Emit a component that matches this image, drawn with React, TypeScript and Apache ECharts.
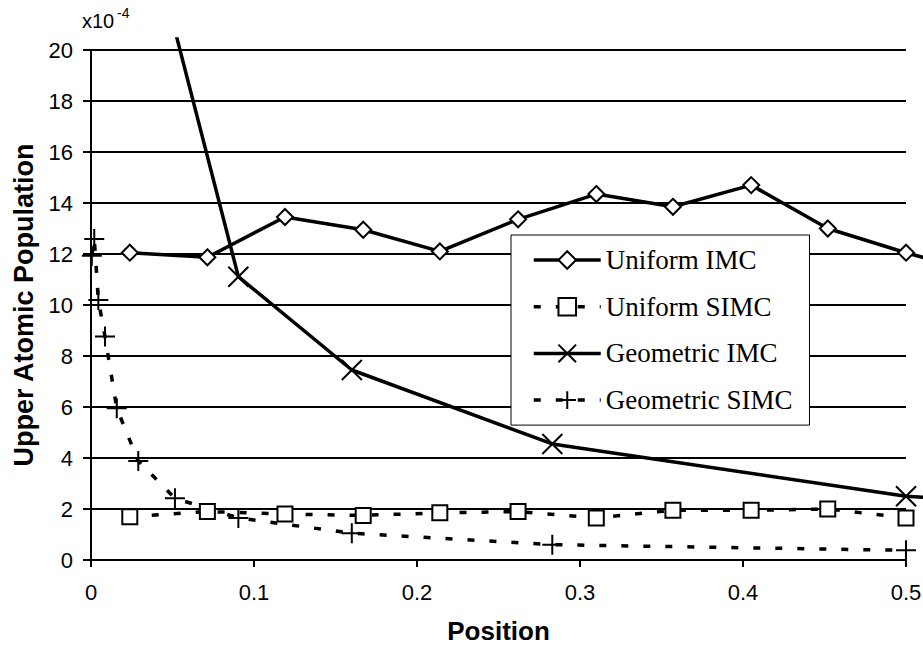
import React, { useEffect, useRef } from "react";
import * as echarts from "echarts";

// Uniform cell centres (positions)
const uniformX = [0.0238, 0.0714, 0.119, 0.167, 0.214, 0.262, 0.31, 0.357, 0.405, 0.452, 0.5, 0.548];
const uniformIMC = [12.05, 11.87, 13.45, 12.95, 12.1, 13.36, 14.35, 13.85, 14.7, 13.0, 12.05, 11.2];
const uniformSIMC = [1.7, 1.9, 1.8, 1.75, 1.85, 1.9, 1.65, 1.95, 1.95, 2.0, 1.65];

// Geometric cell centres (positions)
const geomIMCX = [0.0515, 0.0904, 0.16, 0.283, 0.5, 0.884];
const geometricIMC = [20.77, 11.11, 7.45, 4.55, 2.5, 1.0];
const geomSIMCX = [0.0005, 0.002, 0.0045, 0.0086, 0.0158, 0.029, 0.0515, 0.0904, 0.16, 0.283, 0.5];
const geometricSIMC = [11.93, 12.59, 10.2, 8.76, 5.95, 3.88, 2.42, 1.65, 1.05, 0.6, 0.38];

const seriesNames = ["Uniform IMC", "Uniform SIMC", "Geometric IMC", "Geometric SIMC"];

const pair = (xs: number[], ys: number[]) => ys.map((y, i) => [xs[i], y]);

const SANS = '"Liberation Sans", Arial, sans-serif';
const SERIF = '"Liberation Serif", "Times New Roman", serif';

export default function App() {
  const ref = useRef<HTMLDivElement>(null);
  useEffect(() => {
    if (!ref.current) return;
    const chart = echarts.init(ref.current, null, { renderer: "svg" });
    const xSymbol = "path://M0,0L20,20M20,0L0,20";
    const plusSymbol = "path://M10,0L10,20M0,10L20,10";
    const option: any = {
      animation: false,
      backgroundColor: "#fff",
      textStyle: { fontFamily: SANS },
      grid: [
        { left: 91, right: 17, top: 50, bottom: 92, containLabel: false, outerBoundsMode: "none" },
        { left: 91, right: 0, top: 39, bottom: 92, containLabel: false, outerBoundsMode: "none" },
      ],
      xAxis: [
        {
          type: "value",
          gridIndex: 0,
          min: 0,
          max: 0.5,
          interval: 0.1,
          name: "Position",
          nameLocation: "middle",
          nameGap: 58,
          nameTextStyle: { fontFamily: SANS, fontWeight: "bold", fontSize: 26, color: "#000" },
          axisLine: { show: true, lineStyle: { color: "#000", width: 2 } },
          axisTick: { show: true, inside: false, length: 7, lineStyle: { color: "#000", width: 2 } },
          axisLabel: { fontFamily: SANS, fontSize: 22, color: "#000", margin: 21 },
          splitLine: { show: false },
        },
        { type: "value", gridIndex: 1, min: 0, max: 0.5104, show: false },
      ],
      yAxis: [
        {
          type: "value",
          gridIndex: 0,
          min: 0,
          max: 20,
          interval: 2,
          name: "Upper Atomic Population",
          nameLocation: "middle",
          nameRotate: 90,
          nameGap: 54,
          nameTextStyle: { fontFamily: SANS, fontWeight: "bold", fontSize: 27, color: "#000" },
          axisLine: { show: true, lineStyle: { color: "#000", width: 2 } },
          axisTick: { show: true, inside: false, length: 8, lineStyle: { color: "#000", width: 2 } },
          axisLabel: { fontFamily: SANS, fontSize: 22, color: "#000", margin: 18 },
          splitLine: { show: true, lineStyle: { color: "#000", width: 2 } },
        },
        { type: "value", gridIndex: 1, min: 0, max: 20.43, show: false },
      ],
      legend: {
        data: seriesNames,
        orient: "vertical",
        left: 511,
        top: 235,
        padding: [10, 17, 10, 21],
        itemWidth: 67,
        itemHeight: 22,
        itemGap: 16.7,
        backgroundColor: "#fff",
        borderColor: "#000",
        borderWidth: 1,
        lineStyle: { width: 3.5 },
        textStyle: { fontFamily: SERIF, fontSize: 27, color: "#000", lineHeight: 30 },
        z: 10,
      },
      graphic: [
        {
          type: "text",
          x: 82,
          y: 21,
          style: {
            text: "x10",
            font: `20px ${SANS}`,
            fill: "#000",
            textAlign: "left",
            textVerticalAlign: "middle",
            align: "left",
            verticalAlign: "middle",
          },
        },
        {
          type: "text",
          x: 117,
          y: 13,
          style: {
            text: "-4",
            font: `14px ${SANS}`,
            fill: "#000",
            textAlign: "left",
            textVerticalAlign: "middle",
            align: "left",
            verticalAlign: "middle",
          },
        },
      ],
      series: [
        {
          name: seriesNames[0],
          type: "line",
          xAxisIndex: 1,
          yAxisIndex: 1,
          clip: true,
          data: pair(uniformX, uniformIMC),
          symbol: "emptyDiamond",
          symbolSize: 16,
          showAllSymbol: true,
          lineStyle: { color: "#000", width: 3.5, type: "solid" },
          itemStyle: { color: "#000", borderColor: "#000", borderWidth: 1.5 },
          z: 3,
        },
        {
          name: seriesNames[1],
          type: "line",
          xAxisIndex: 0,
          yAxisIndex: 0,
          data: pair(uniformX, uniformSIMC),
          symbol: "emptyRect",
          symbolSize: 15,
          showAllSymbol: true,
          lineStyle: { color: "#000", width: 3.5, type: [7, 15] },
          itemStyle: { color: "#000", borderColor: "#000", borderWidth: 1.5 },
          z: 3,
        },
        {
          name: seriesNames[2],
          type: "line",
          xAxisIndex: 1,
          yAxisIndex: 1,
          clip: true,
          data: pair(geomIMCX, geometricIMC),
          symbol: xSymbol,
          symbolSize: 20,
          showAllSymbol: true,
          lineStyle: { color: "#000", width: 3.5, type: "solid" },
          itemStyle: { color: "#000", borderColor: "#000", borderWidth: 2 },
          z: 3,
        },
        {
          name: seriesNames[3],
          type: "line",
          xAxisIndex: 0,
          yAxisIndex: 0,
          clip: false,
          data: pair(geomSIMCX, geometricSIMC),
          symbol: plusSymbol,
          symbolSize: 20,
          showAllSymbol: true,
          lineStyle: { color: "#000", width: 3.5, type: [7, 15] },
          itemStyle: { color: "#000", borderColor: "#000", borderWidth: 2 },
          z: 3,
        },
      ],
    };
    chart.setOption(option);
    return () => chart.dispose();
  }, []);
  return (
    <div
      ref={ref}
      style={{ position: "absolute", left: 0, top: 0, width: 923, height: 652, background: "#fff" }}
    />
  );
}
